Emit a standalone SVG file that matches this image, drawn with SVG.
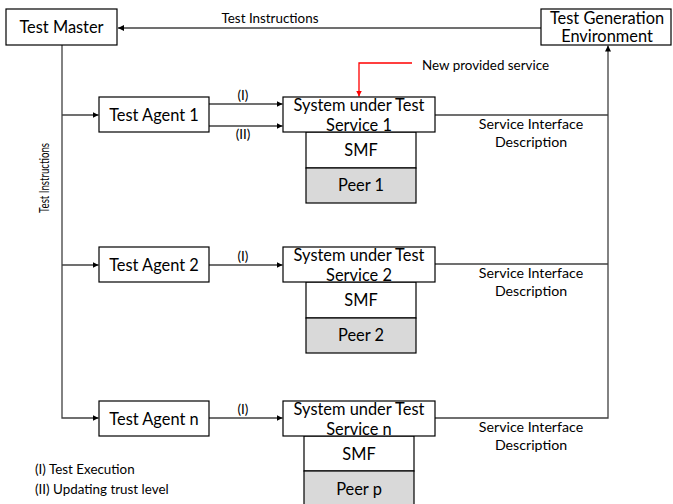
<svg xmlns="http://www.w3.org/2000/svg" width="673" height="504" viewBox="0 0 673 504">
  <style>
    .box { fill: #ffffff; stroke: #000000; stroke-width: 1.2; }
    .peer { fill: #d9d9d9; stroke: #000000; stroke-width: 1.2; }
    .big { font-family: Lato, "Liberation Sans", sans-serif; font-size: 16.4px; fill: #000000; text-anchor: middle; }
    .small { font-family: Lato, "Liberation Sans", sans-serif; font-size: 13.4px; fill: #000000; }
    .sid { font-size: 14.2px; }
    .mid { text-anchor: middle; }
    .line { fill: none; stroke: #404040; stroke-width: 1.3; }
    .red { fill: none; stroke: #ff0000; stroke-width: 1.3; }
  </style>
  <defs>
    <marker id="arrow" viewBox="0 0 10 10" refX="10" refY="5" markerWidth="6" markerHeight="6" markerUnits="userSpaceOnUse" orient="auto">
      <path d="M0,0 L10,5 L0,10 z" fill="#000000"/>
    </marker>
    <marker id="arrowRed" viewBox="0 0 10 10" refX="10" refY="5" markerWidth="6" markerHeight="6" markerUnits="userSpaceOnUse" orient="auto">
      <path d="M0,0 L10,5 L0,10 z" fill="#ff0000"/>
    </marker>
  </defs>

  <!-- connectors -->
  <g id="connectors">
    <line class="line" x1="541" y1="28" x2="118" y2="28" marker-end="url(#arrow)"/>
    <path class="line" d="M62,45 V418 H98.5" marker-end="url(#arrow)"/>
    <line class="line" x1="62" y1="115" x2="98.5" y2="115" marker-end="url(#arrow)"/>
    <line class="line" x1="62" y1="265" x2="98.5" y2="265" marker-end="url(#arrow)"/>

    <line class="line" x1="209" y1="104" x2="282.5" y2="104" marker-end="url(#arrow)"/>
    <line class="line" x1="209" y1="126" x2="282.5" y2="126" marker-end="url(#arrow)"/>
    <line class="line" x1="209" y1="265" x2="282.5" y2="265" marker-end="url(#arrow)"/>
    <line class="line" x1="209" y1="418" x2="282.5" y2="418" marker-end="url(#arrow)"/>

    <line class="line" x1="435" y1="115" x2="608" y2="115"/>
    <line class="line" x1="435" y1="264" x2="608" y2="264"/>
    <path class="line" d="M435,418 H608 V45.5" marker-end="url(#arrow)"/>

    <polyline class="red" points="412,63 359,63 359,96.5" marker-end="url(#arrowRed)"/>

    <text class="small mid" x="270" y="23">Test Instructions</text>
    <text class="small mid" transform="translate(48.5,178) rotate(-90)" textLength="70" lengthAdjust="spacingAndGlyphs">Test Instructions</text>
    <text class="small mid" x="243" y="100">(I)</text>
    <text class="small mid" x="243" y="139">(II)</text>
    <text class="small mid" x="243" y="261">(I)</text>
    <text class="small mid" x="243" y="414">(I)</text>
    <text class="small" x="422" y="70">New provided service</text>
    <text class="small sid mid" x="531" y="129">Service Interface</text>
    <text class="small sid mid" x="531" y="147">Description</text>
    <text class="small sid mid" x="531" y="278">Service Interface</text>
    <text class="small sid mid" x="531" y="296">Description</text>
    <text class="small sid mid" x="531" y="432">Service Interface</text>
    <text class="small sid mid" x="531" y="450">Description</text>
  </g>

  <g id="test-master">
    <rect class="box" x="6" y="9" width="111" height="36"/>
    <text class="big" x="61.5" y="33">Test Master</text>
  </g>

  <g id="test-generation-environment">
    <rect class="box" x="541" y="9" width="130" height="36"/>
    <text class="big" x="607" y="24">Test Generation</text>
    <text class="big" x="607" y="42">Environment</text>
  </g>

  <g id="test-agent-1">
    <rect class="box" x="99" y="97" width="110" height="35"/>
    <text class="big" x="154" y="121">Test Agent 1</text>
  </g>
  <g id="test-agent-2">
    <rect class="box" x="99" y="247" width="110" height="35"/>
    <text class="big" x="154" y="271">Test Agent 2</text>
  </g>
  <g id="test-agent-n">
    <rect class="box" x="99" y="401" width="110" height="35"/>
    <text class="big" x="154" y="425">Test Agent n</text>
  </g>

  <g id="stack-1">
    <rect class="box" x="306" y="132" width="110" height="36"/>
    <text class="big" x="361" y="156">SMF</text>
    <rect class="peer" x="306" y="168" width="110" height="35"/>
    <text class="big" x="361" y="191">Peer 1</text>
    <rect class="box" x="283" y="97" width="152" height="35"/>
    <text class="big" x="359" y="111">System under Test</text>
    <text class="big" x="359" y="131">Service 1</text>
  </g>

  <g id="stack-2">
    <rect class="box" x="306" y="282" width="110" height="36"/>
    <text class="big" x="361" y="306">SMF</text>
    <rect class="peer" x="306" y="318" width="110" height="35"/>
    <text class="big" x="361" y="341">Peer 2</text>
    <rect class="box" x="283" y="247" width="152" height="35"/>
    <text class="big" x="359" y="261">System under Test</text>
    <text class="big" x="359" y="281">Service 2</text>
  </g>

  <g id="stack-n">
    <rect class="box" x="304" y="436" width="110" height="35"/>
    <text class="big" x="359" y="460">SMF</text>
    <rect class="peer" x="304" y="471" width="110" height="36"/>
    <text class="big" x="359" y="495">Peer p</text>
    <rect class="box" x="283" y="401" width="152" height="35"/>
    <text class="big" x="359" y="415">System under Test</text>
    <text class="big" x="359" y="435">Service n</text>
  </g>

  <g id="legend">
    <text class="small" x="35" y="474">(I) Test Execution</text>
    <text class="small" x="35" y="494">(II) Updating trust level</text>
  </g>
</svg>
